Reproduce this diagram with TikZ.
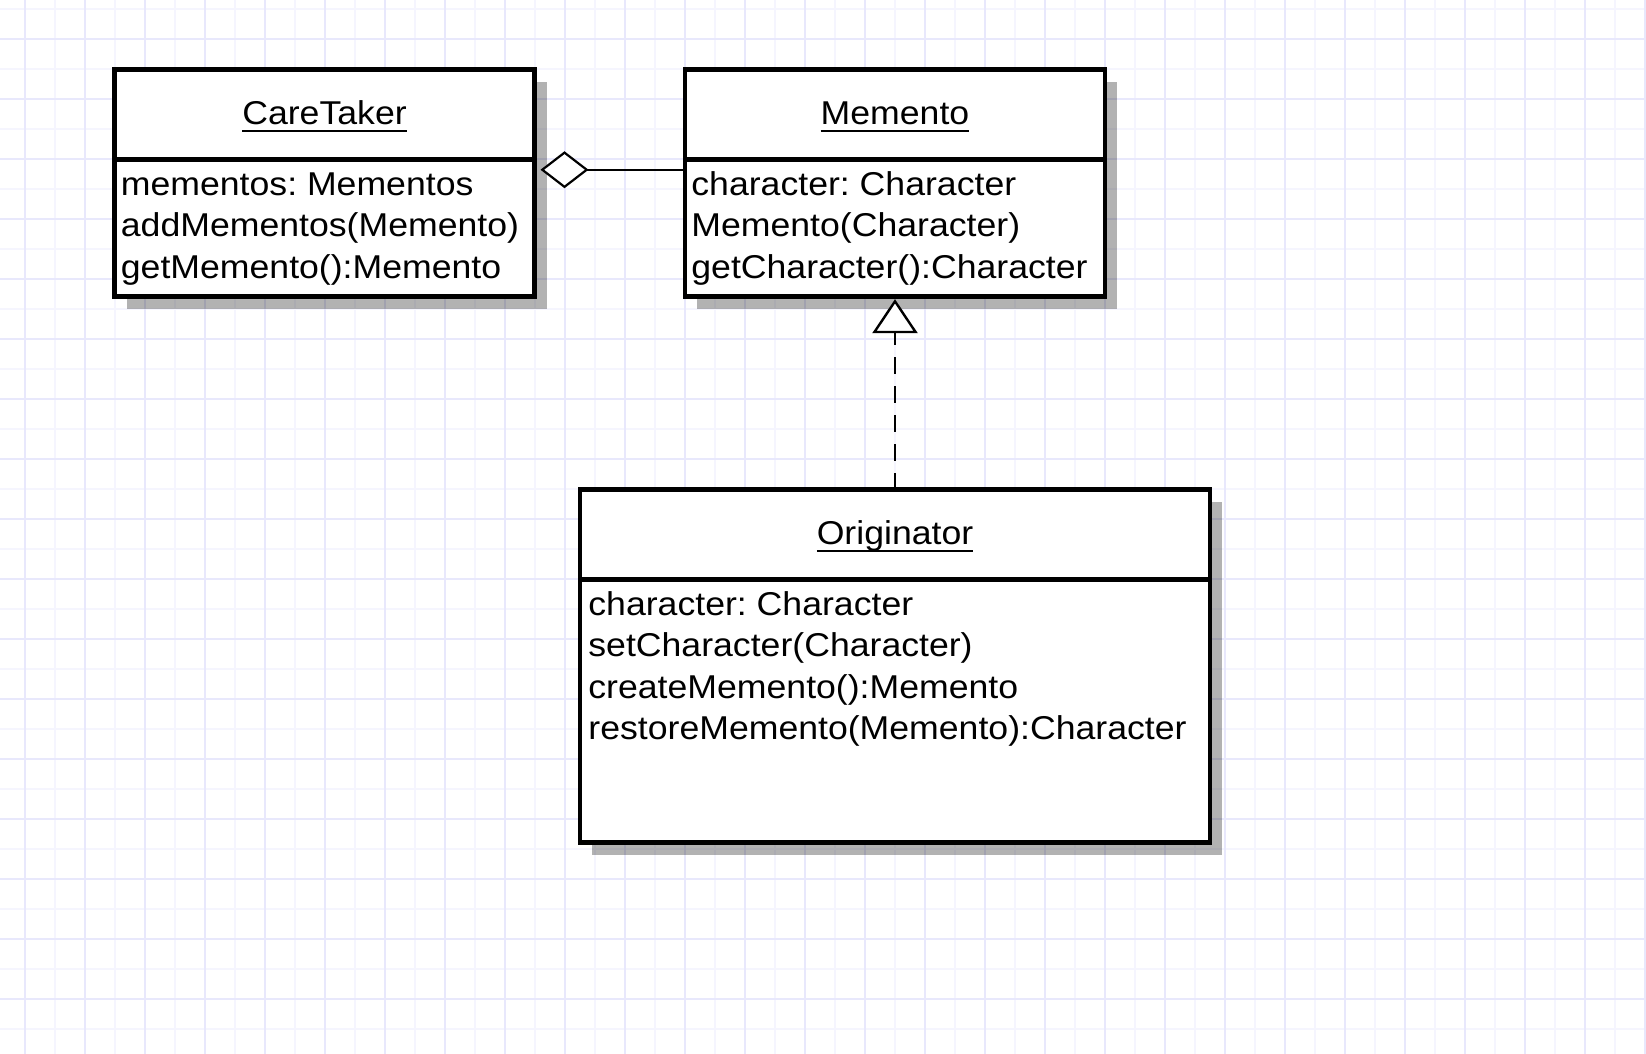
\documentclass[tikz,border=0pt]{standalone}
\usepackage{fontspec}
\setmainfont{Liberation Sans}[FakeStretch=1.08]
\usetikzlibrary{positioning,arrows.meta,shadows}

\definecolor{gridmajor}{RGB}{232,232,252}
\definecolor{gridminor}{RGB}{245,245,254}

\newsavebox\clsbox
\newcommand{\clsname}[1]{\sbox\clsbox{#1}\rlap{\rule[-3.8pt]{\wd\clsbox}{1pt}}\usebox\clsbox}
\frenchspacing

\begin{document}
\begin{tikzpicture}[
    x=0.5pt, y=-0.5pt,
    umlfont/.style={font=\fontsize{16.5}{20.75}\selectfont},
    classbox/.style={rectangle, draw, line width=2.4pt, fill=white, outer sep=0pt,
        minimum width=210pt,
        drop shadow={shadow xshift=6pt, shadow yshift=-6pt, fill=black, opacity=0.3}},
    classhead/.style={classbox, umlfont, minimum height=45pt, text height=13pt, text depth=3pt},
    classbody/.style={classbox, minimum height=68.5pt},
    members/.style={umlfont, anchor=north west, inner sep=0pt, align=left},
    aggr/.style={-{Diamond[fill=white, length=24pt, width=18.5pt]}, line width=1.1pt},
    realize/.style={-{Triangle[fill=white, length=17pt, width=22.5pt]}, line width=1.2pt, dash pattern=on 8.5pt off 6pt}
]
    % background grid
    \fill[white] (0,0) rectangle (1646,1054);
    \useasboundingbox (0,0) rectangle (1646,1054);
    \foreach \gx in {55,115,...,1646} \draw[gridminor, line width=1pt] (\gx,0) -- (\gx,1054);
    \foreach \gy in {9,69,...,1054} \draw[gridminor, line width=1pt] (0,\gy) -- (1646,\gy);
    \foreach \gx in {25,85,...,1646} \draw[gridmajor, line width=1pt] (\gx,0) -- (\gx,1054);
    \foreach \gy in {39,99,...,1054} \draw[gridmajor, line width=1pt] (0,\gy) -- (1646,\gy);

    % classes
    \node[classhead] (cthead) at (324.5,114.75) {\clsname{CareTaker}};
    \node[classbody, below=0pt of cthead] (ctbody) {};
    \node[members] (ctlist) at ([shift={(3pt,-3pt)}]ctbody.north west)
        {\strut mementos: Mementos\\addMementos(Memento)\\getMemento():Memento};

    \node[classhead, right=75.25pt of cthead] (mmhead) {\clsname{Memento}};
    \node[classbody, below=0pt of mmhead] (mmbody) {};
    \node[members] (mmlist) at ([shift={(3pt,-3pt)}]mmbody.north west)
        {\strut character: Character\\Memento(Character)\\getCharacter():Character};

    \node[classhead, minimum width=315pt, below=96.5pt of mmbody] (orhead) {\clsname{Originator}};
    \node[classbody, minimum width=315pt, minimum height=131.5pt, below=0pt of orhead] (orbody) {};
    \node[members] (orlist) at ([shift={(4pt,-3pt)}]orbody.north west)
        {\strut character: Character\\setCharacter(Character)\\createMemento():Memento\\restoreMemento(Memento):Character};

    % relations
    \draw[aggr] ([yshift=-5pt]mmbody.north west) -- ([xshift=3pt, yshift=-5pt]ctbody.north east);
    \draw[realize] (orhead.north) -- ([yshift=-1.2pt]mmbody.south);
\end{tikzpicture}
\end{document}
